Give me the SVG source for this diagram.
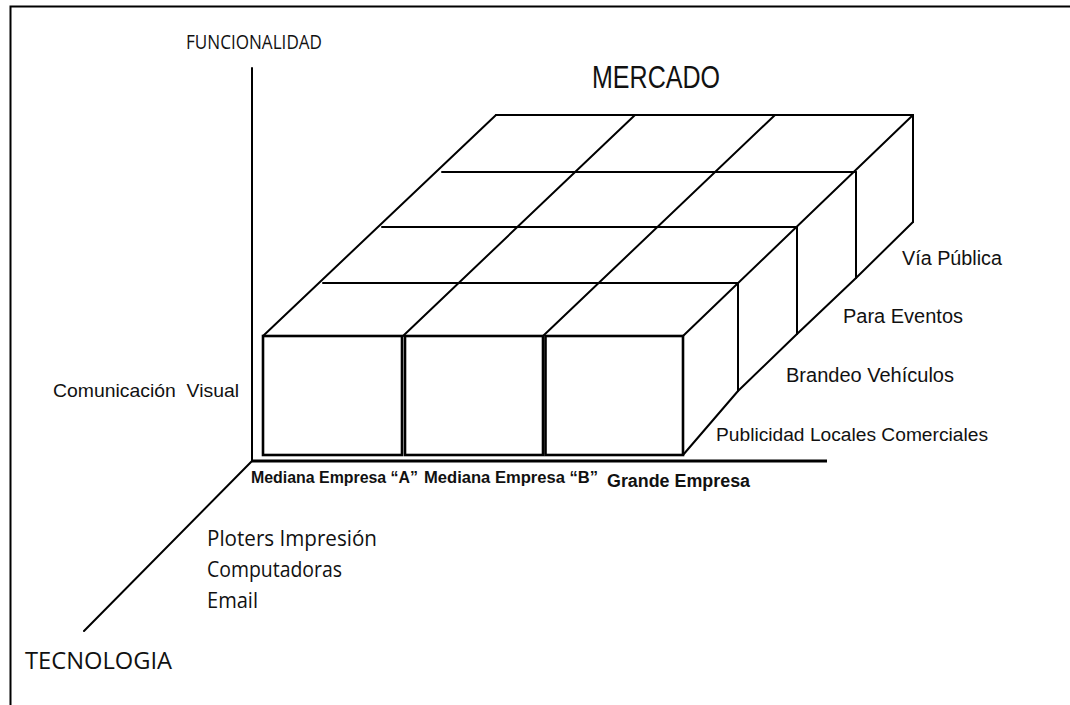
<svg xmlns="http://www.w3.org/2000/svg" width="1070" height="705" viewBox="0 0 1070 705">
<style>
.ln{stroke:#000;stroke-width:2;fill:none;stroke-linecap:round;stroke-linejoin:round}
.box{stroke:#000;stroke-width:2.6;fill:#fff}
.my{font-family:"Open Sans","Liberation Sans",sans-serif;fill:#111}
.ar{font-family:"Liberation Sans",Arial,sans-serif;fill:#111}
.bd{font-family:"Liberation Sans",Arial,sans-serif;font-weight:bold;fill:#111}
</style>
<rect x="0" y="0" width="1070" height="705" fill="#fff"/>
<g id="frame">
<path d="M10.5 705 V6.5 H1070" fill="none" stroke="#000" stroke-width="2"/>
</g>
<g id="axes">
<line class="ln" x1="252" y1="68" x2="252" y2="461"/>
<line x1="252" y1="461" x2="827" y2="461" stroke="#000" stroke-width="3.2"/>
<line class="ln" x1="252" y1="461" x2="84" y2="631"/>
</g>
<g id="connectors">
<!-- top grid rows -->
<line class="ln" x1="496" y1="115" x2="913" y2="115"/>
<line class="ln" x1="442" y1="172" x2="856" y2="172"/>
<line class="ln" x1="382" y1="227" x2="796" y2="227"/>
<line class="ln" x1="323" y1="283" x2="738" y2="283"/>
<!-- column diagonals -->
<line class="ln" x1="263" y1="336" x2="496" y2="115"/>
<line class="ln" x1="403" y1="336" x2="635" y2="115"/>
<line class="ln" x1="543" y1="336" x2="775" y2="115"/>
<line class="ln" x1="683" y1="336" x2="913" y2="115"/>
<!-- right face verticals -->
<line class="ln" x1="738" y1="283" x2="738" y2="391"/>
<line class="ln" x1="797" y1="227" x2="797" y2="334"/>
<line class="ln" x1="856" y1="172" x2="856" y2="278"/>
<line class="ln" x1="913" y1="115" x2="913" y2="222"/>
<!-- right bottom diagonal -->
<polyline class="ln" points="683,455 738,391 797,334 856,278 913,222"/>
</g>
<g id="box-a"><rect class="box" x="263" y="336" width="139" height="119"/></g>
<g id="box-b"><rect class="box" x="405" y="336" width="138" height="119"/></g>
<g id="box-c"><rect class="box" x="545.5" y="336" width="137.5" height="119"/></g>
<g id="labels">
<text class="my" x="186" y="49" font-size="19.5" textLength="136" lengthAdjust="spacingAndGlyphs">FUNCIONALIDAD</text>
<text class="ar" x="592" y="88" font-size="31" textLength="128" lengthAdjust="spacingAndGlyphs">MERCADO</text>
<text class="ar" x="53" y="397" font-size="18.4" textLength="186" lengthAdjust="spacingAndGlyphs" xml:space="preserve">Comunicación  Visual</text>
<text class="ar" x="902" y="265" font-size="20" textLength="100" lengthAdjust="spacingAndGlyphs">Vía Pública</text>
<text class="ar" x="843" y="323" font-size="20" textLength="120" lengthAdjust="spacingAndGlyphs">Para Eventos</text>
<text class="ar" x="786" y="382" font-size="20" textLength="168" lengthAdjust="spacingAndGlyphs">Brandeo Vehículos</text>
<text class="ar" x="716" y="441" font-size="19.2" textLength="272" lengthAdjust="spacingAndGlyphs">Publicidad Locales Comerciales</text>
<text class="bd" x="251" y="483" font-size="16" textLength="167" lengthAdjust="spacingAndGlyphs">Mediana Empresa “A”</text>
<text class="bd" x="424" y="483" font-size="16" textLength="174" lengthAdjust="spacingAndGlyphs">Mediana Empresa “B”</text>
<text class="bd" x="607" y="487" font-size="18" textLength="143" lengthAdjust="spacingAndGlyphs">Grande Empresa</text>
<text class="my" x="207" y="546" font-size="22" textLength="170" lengthAdjust="spacingAndGlyphs">Ploters Impresión</text>
<text class="my" x="207" y="577" font-size="22" textLength="135" lengthAdjust="spacingAndGlyphs">Computadoras</text>
<text class="my" x="207" y="608" font-size="22" textLength="51" lengthAdjust="spacingAndGlyphs">Email</text>
<text class="my" x="25" y="669" font-size="24" textLength="147" lengthAdjust="spacingAndGlyphs">TECNOLOGIA</text>
</g>
</svg>
